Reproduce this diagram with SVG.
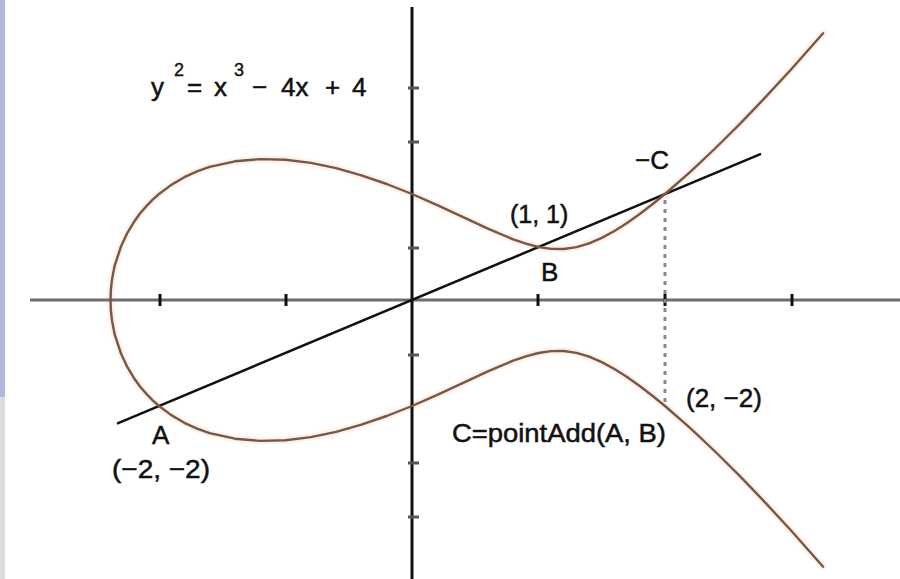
<svg xmlns="http://www.w3.org/2000/svg" width="900" height="579" viewBox="0 0 900 579">
<style>
.lbl{font-family:"Liberation Sans",Arial,sans-serif;font-size:26px;fill:#111;stroke:#111;stroke-width:0.5}
.sup{font-family:"Liberation Sans",Arial,sans-serif;font-size:18px;fill:#111;stroke:#111;stroke-width:0.4}
.curve{fill:none;stroke:#76574a;stroke-width:2.4;stroke-linejoin:round;stroke-linecap:round}
.glow{fill:none;stroke:#fdf1e8;stroke-width:7;stroke-linejoin:round;stroke-linecap:round}
.xt{stroke:#111;stroke-width:3}
.yt{stroke:#555;stroke-width:3}
</style>
<rect x="0" y="0" width="900" height="579" fill="#ffffff"/>
<rect x="0" y="0" width="5" height="397" fill="#b3b9dc"/>
<rect x="0" y="397" width="5" height="182" fill="#dcdcdc"/>
<g id="curve-glow">
<polyline class="glow" points="823.1,33.3 791.5,69 766.2,96.4 740.9,122.8 715.6,148 690.3,171.9 665,194 652.4,204.3 639.7,214 627.1,223 614.4,231 601.8,237.9 589.1,243.3 576.5,247.1 563.8,249 551.2,248.9 538.5,247 525.9,243.7 513.2,239.3 487.9,228.6 462.6,216.8 437.3,205.1 412,194 386.7,184 361.4,175.3 336.1,168.2 310.8,162.9 285.5,159.8 260.2,159.1 234.9,161.3 209.6,166.9 197,171.4 184.3,177.2 171.7,184.6 159,194 152.7,199.7 146.4,206.1 140,213.5 133.7,222.3 127.4,232.8 121.1,246.2 114.7,265.6 112.2,278.3 111.6,282.9 110.9,289.6 110.7,294 110.55,300 110.7,306 110.9,310.4 111.6,317.1 112.2,321.7 114.7,334.4 121.1,353.8 127.4,367.2 133.7,377.7 140,386.5 146.4,393.9 152.7,400.3 159,406 171.7,415.4 184.3,422.8 197,428.6 209.6,433.1 234.9,438.7 260.2,440.9 285.5,440.2 310.8,437.1 336.1,431.8 361.4,424.7 386.7,416 412,406 437.3,394.9 462.6,383.2 487.9,371.4 513.2,360.7 525.9,356.3 538.5,353 551.2,351.1 563.8,351 576.5,352.9 589.1,356.7 601.8,362.1 614.4,369 627.1,377 639.7,386 652.4,395.7 665,406 690.3,428.1 715.6,452 740.9,477.2 766.2,503.6 791.5,531 823.1,566.7"/>
</g>
<g id="axes">
<line x1="30" y1="300" x2="900" y2="300" stroke="#6e6e6e" stroke-width="3"/>
<line x1="412" y1="7" x2="412" y2="579" stroke="#111" stroke-width="3"/>
<line class="xt" x1="160" y1="294" x2="160" y2="306"/>
<line class="xt" x1="286" y1="294" x2="286" y2="306"/>
<line class="xt" x1="538" y1="294" x2="538" y2="306"/>
<line class="xt" x1="665" y1="294" x2="665" y2="306" stroke="#666"/>
<line class="xt" x1="792" y1="294" x2="792" y2="306"/>
<line class="yt" x1="408" y1="88" x2="419" y2="88"/>
<line class="yt" x1="408" y1="142" x2="419" y2="142"/>
<line class="yt" x1="408" y1="248" x2="419" y2="248"/>
<line class="yt" x1="408" y1="355" x2="419" y2="355"/>
<line class="yt" x1="408" y1="463" x2="419" y2="463"/>
<line class="yt" x1="408" y1="517" x2="419" y2="517"/>
</g>
<g id="connectors">
<line id="dashed" x1="665" y1="200" x2="665" y2="406" stroke="#888" stroke-width="3" stroke-dasharray="4,5"/>
<line id="secant" x1="117" y1="423.6" x2="761" y2="153.8" stroke="#111" stroke-width="2.5"/>
<polyline class="curve" points="823.1,33.3 791.5,69 766.2,96.4 740.9,122.8 715.6,148 690.3,171.9 665,194 652.4,204.3 639.7,214 627.1,223 614.4,231 601.8,237.9 589.1,243.3 576.5,247.1 563.8,249 551.2,248.9 538.5,247 525.9,243.7 513.2,239.3 487.9,228.6 462.6,216.8 437.3,205.1 412,194 386.7,184 361.4,175.3 336.1,168.2 310.8,162.9 285.5,159.8 260.2,159.1 234.9,161.3 209.6,166.9 197,171.4 184.3,177.2 171.7,184.6 159,194 152.7,199.7 146.4,206.1 140,213.5 133.7,222.3 127.4,232.8 121.1,246.2 114.7,265.6 112.2,278.3 111.6,282.9 110.9,289.6 110.7,294 110.55,300 110.7,306 110.9,310.4 111.6,317.1 112.2,321.7 114.7,334.4 121.1,353.8 127.4,367.2 133.7,377.7 140,386.5 146.4,393.9 152.7,400.3 159,406 171.7,415.4 184.3,422.8 197,428.6 209.6,433.1 234.9,438.7 260.2,440.9 285.5,440.2 310.8,437.1 336.1,431.8 361.4,424.7 386.7,416 412,406 437.3,394.9 462.6,383.2 487.9,371.4 513.2,360.7 525.9,356.3 538.5,353 551.2,351.1 563.8,351 576.5,352.9 589.1,356.7 601.8,362.1 614.4,369 627.1,377 639.7,386 652.4,395.7 665,406 690.3,428.1 715.6,452 740.9,477.2 766.2,503.6 791.5,531 823.1,566.7"/>
</g>
<g id="equation">
<text class="lbl" x="151" y="96">y</text>
<text class="sup" x="174" y="76">2</text>
<text class="lbl" x="187" y="96">=</text>
<text class="lbl" x="214" y="96">x</text>
<text class="sup" x="234" y="76">3</text>
<text class="lbl" x="252" y="96">−</text>
<text class="lbl" x="281" y="96">4x</text>
<text class="lbl" x="325" y="96">+</text>
<text class="lbl" x="352" y="96">4</text>
</g>
<g id="label-B">
<text class="lbl" x="510" y="223" style="font-size:25px">(1, 1)</text>
<text class="lbl" x="541" y="281">B</text>
</g>
<g id="label-negC">
<text class="lbl" x="635" y="169">−C</text>
</g>
<g id="label-C">
<text class="lbl" x="686" y="407">(2, −2)</text>
<text class="lbl" x="452" y="442" textLength="214" lengthAdjust="spacingAndGlyphs">C=pointAdd(A, B)</text>
</g>
<g id="label-A">
<text class="lbl" x="152" y="444">A</text>
<text class="lbl" x="112" y="478" textLength="98" lengthAdjust="spacingAndGlyphs">(−2, −2)</text>
</g>
</svg>
